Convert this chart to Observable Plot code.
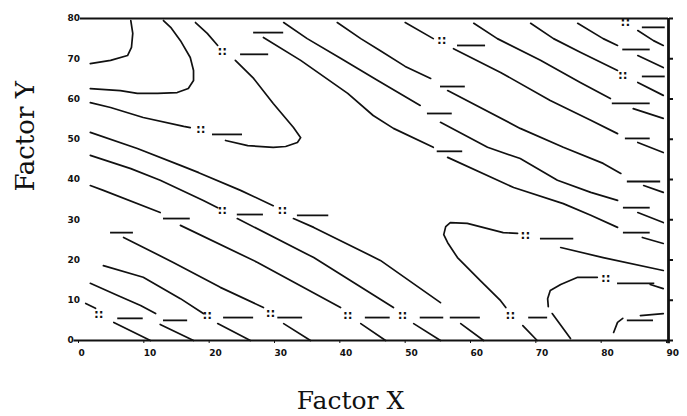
<!DOCTYPE html>
<html><head><meta charset="utf-8">
<script src="https://cdn.jsdelivr.net/npm/d3@7"></script>
<script src="https://cdn.jsdelivr.net/npm/@observablehq/plot@0.6"></script>
<style>
body{margin:0;background:#fff;}
#chart svg{display:block;}
</style></head><body><div id="chart"></div>
<script>
// Tick values (labels of the scan are illegible; read as evenly spaced levels)
const xTicks = [0, 10, 20, 30, 40, 50, 60, 70, 80, 90];
const yTicks = [0, 10, 20, 30, 40, 50, 60, 70, 80];

// Contour lines: each is a list of segments (gaps where the contour labels sit), points [x, y]
const contourA = [[[7.7,79.5],[8.0,76.3],[7.8,72.8],[7.2,70.8],[4.6,69.6],[1.5,68.8]]];
const contourB = [[[12.7,79.5],[13.8,77.8],[15.3,74.5],[16.8,70.3],[17.3,67.1],[17.3,64.6],[16.5,62.6],[14.8,61.6],[11.8,61.4],[8.7,61.4],[6.1,62.1],[1.5,62.6]]];
const contourC = [
  [[17.6,79.0],[19.4,76.3],[21.0,73.3]],
  [[23.7,69.6],[26.5,65.1],[29.5,58.9],[32.6,52.9],[33.7,50.4],[33.2,49.2],[31.4,48.2],[29.5,48.0],[25.6,48.4],[22.2,49.7]],
  [[16.8,52.9],[15.8,53.2],[9.6,55.4],[4.6,57.9],[1.5,59.1]]
];
const contourD = [
  [[1.5,51.7],[8.7,47.7],[15.3,43.5],[18.1,41.7],[24.5,37.3],[29.5,33.5]],
  [[32.6,30.3],[35.7,28.1],[45.9,19.9],[55.1,9.4]],
  [[58.2,4.2],[61.7,0]]
];
const contourE = [
  [[1.5,46.0],[7.7,42.7],[12.2,39.8],[18.8,34.8],[21.0,33.0]],
  [[24.0,30.3],[35.7,20.6],[47.9,8.2]],
  [[51.0,4.2],[55.1,0]]
];
const contourF = [
  [[1.5,38.5],[3.5,37.3],[12.2,31.8]],
  [[15.3,28.6],[27.1,19.4],[39.8,8.2]],
  [[42.9,4.2],[46.7,0]]
];
const contourG = [
  [[6.6,25.6],[14.2,19.4],[21.4,13.2],[28.0,8.2]],
  [[31.1,4.2],[35.2,0]]
];
const contourH = [
  [[3.5,18.6],[9.6,15.7],[15.3,10.4],[18.8,6.7]],
  [[21.0,4.2],[26.0,0]]
];
const contourI = [
  [[1.5,14.2],[5.7,11.2],[9.2,8.7],[11.5,6.7]],
  [[12.2,4.0],[17.3,0]]
];
const contourJ = [
  [[0.8,9.2],[2.3,8.0]],
  [[5.1,4.5],[10.7,0]]
];
const contourK = [
  [[28.0,75.3],[33.7,69.6],[40.9,61.4],[44.8,55.9],[47.9,52.7],[54.0,48.0]],
  [[56.2,45.5],[66.3,38.0],[73.9,34.0],[78.1,31.1],[82.2,28.1]],
  [[86.0,25.6],[89.2,24.1]]
];
const contourL1 = [
  [[31.1,79.0],[34.7,75.0],[39.8,70.1],[45.5,64.6],[52.0,58.4]],
  [[55.1,54.2],[62.3,48.0],[67.3,45.2],[73.0,39.8],[78.1,36.8],[82.2,34.8]],
  [[85.3,31.8],[89.2,29.3]]
];
const contourL2 = [
  [[39.3,79.0],[42.9,75.0],[45.9,72.0],[49.7,68.1],[53.6,65.1]],
  [[56.2,62.1],[67.3,52.7],[73.9,48.0],[80.0,44.0],[82.7,41.5]],
  [[86.2,38.5],[89.2,36.8]]
];
const contourL3 = [
  [[49.7,79.0],[54.0,75.0]],
  [[57.1,72.5],[64.3,66.6],[71.9,59.6],[78.1,54.7],[82.2,51.4]],
  [[85.3,49.2],[89.2,46.7]]
];
const contourL4 = [
  [[60.2,78.8],[63.8,75.0],[70.4,69.6],[76.5,64.1],[81.1,60.1]],
  [[84.6,57.6],[89.2,55.2]]
];
const contourL5 = [
  [[68.9,78.8],[72.4,75.0],[76.5,71.6],[82.2,67.1]],
  [[85.3,64.1],[89.2,60.9]]
];
const contourL6 = [
  [[76.1,78.8],[80.0,75.0],[82.2,73.3]],
  [[85.3,70.8],[89.2,67.8]]
];
const contourL7 = [[[85.3,77.0],[87.7,74.5],[89.2,73.3]]];
const contourM = [
  [[89.2,17.4],[80.0,20.6],[73.5,23.1]],
  [[66.9,26.6],[64.7,26.8],[59.2,29.1],[56.6,29.3],[55.9,28.3],[55.6,26.3],[56.2,24.3],[57.7,20.6],[61.2,14.9],[64.3,9.9],[65.1,8.2]],
  [[67.7,3.7],[69.9,0]]
];
const contourN = [
  [[87.2,13.9],[89.2,12.9]],
  [[79.1,15.7],[76.1,15.7],[73.5,13.9],[71.9,12.4],[71.5,10.4],[71.6,8.4]],
  [[72.2,6.7],[75.0,0.5]]
];
const contourP = [
  [[81.6,2.0],[82.2,4.5],[83.0,5.5]],
  [[85.7,6.2],[89.2,6.7]]
];

// Contour label marks as they appear in the scan: bars [x1, x2, y] and colon pairs [x, y]
const labelBars = [
  [24.5,28.8,71.1],[20.2,24.8,51.2],
  [26.5,31.1,76.5],[54.6,58.5,47.0],[83.1,87.2,26.8],
  [53.1,56.9,56.4],[83.1,87.2,33.0],
  [55.1,58.9,63.1],[83.7,88.8,39.5],
  [57.7,62.0,73.3],[83.4,87.2,50.2],
  [81.4,87.2,58.9],[86.0,89.5,65.6],[83.0,87.2,72.3],[86.0,89.5,77.8],
  [33.2,38.0,31.1],[56.6,61.2,5.7],
  [24.0,28.0,31.3],[52.0,55.6,5.7],
  [12.7,16.8,30.3],[43.6,47.4,5.7],
  [4.6,8.1,26.8],[30.2,34.0,5.7],
  [21.9,26.5,5.7],[12.7,16.4,5.0],[5.7,9.6,5.5],
  [70.4,75.5,25.3],[68.6,71.5,5.7],
  [82.2,87.9,14.2],[83.7,87.7,5.0]
];
const labelColons = [
  [21.7,72.0],[18.4,52.4],[55.3,74.5],[83.0,65.8],[83.4,79.0],
  [30.9,32.3],[21.7,32.3],[49.3,6.2],[40.9,6.2],[29.1,6.7],[19.4,6.2],[2.8,6.5],
  [68.1,26.1],[65.8,6.2],[80.4,15.4]
];

const named = [["A",contourA],["B",contourB],["C",contourC],["D",contourD],["E",contourE],
  ["F",contourF],["G",contourG],["H",contourH],["I",contourI],["J",contourJ],["K",contourK],
  ["L1",contourL1],["L2",contourL2],["L3",contourL3],["L4",contourL4],["L5",contourL5],
  ["L6",contourL6],["L7",contourL7],["M",contourM],["N",contourN],["P",contourP]];
const rows = [];
named.forEach(([n, segs]) => segs.forEach((s, i) => s.forEach(([x, y]) => rows.push({seg: n + "-" + i, x, y}))));

const tickFont = {fontSize: 9, fontWeight: "bold"};
const plot = Plot.plot({
  width: 687, height: 416,
  marginLeft: 80, marginRight: 19, marginTop: 18, marginBottom: 76,
  style: {background: "#fff", fontFamily: "DejaVu Sans", color: "#111"},
  x: {domain: [0, 90], label: null},
  y: {domain: [0, 80], label: null},
  marks: [
    Plot.ruleY([80], {x1: 0, x2: 90, strokeWidth: 1.8, stroke: "#111"}),
    Plot.ruleY([0], {x1: -1, x2: 90, strokeWidth: 1.8, stroke: "#111"}),
    Plot.ruleX([90], {y1: -0.8, y2: 80, strokeWidth: 2.8, stroke: "#111"}),
    Plot.axisY(yTicks, {anchor: "right", tickSize: 4, strokeWidth: 2, tickFormat: () => ""}),
    Plot.axisX(xTicks, {anchor: "bottom", tickSize: 3, tickPadding: 6, textAnchor: "start", dx: -2, ...tickFont}),
    Plot.axisY(yTicks, {anchor: "left", tickSize: 0, tickPadding: 0, textAnchor: "start", dx: -13, ...tickFont}),
    Plot.line(rows, {x: "x", y: "y", z: "seg", stroke: "#111", strokeWidth: 1.7}),
    Plot.ruleY(labelBars, {x1: d => d[0], x2: d => d[1], y: d => d[2], stroke: "#111", strokeWidth: 1.8}),
    Plot.text(labelColons, {x: d => d[0], y: d => d[1], text: () => "::", fill: "#111", fontSize: 12, fontWeight: "bold"}),
    Plot.text(["Factor X"], {frameAnchor: "bottom", dx: -24, dy: 60, lineAnchor: "middle", fontSize: 25, fontFamily: "DejaVu Serif", fill: "#111"}),
    Plot.text(["Factor Y"], {frameAnchor: "left", rotate: -90, dx: -55, dy: 12, lineAnchor: "middle", fontSize: 26, fontFamily: "DejaVu Serif", fill: "#111"})
  ]
});
document.getElementById("chart").appendChild(plot);
</script>
</body></html>
